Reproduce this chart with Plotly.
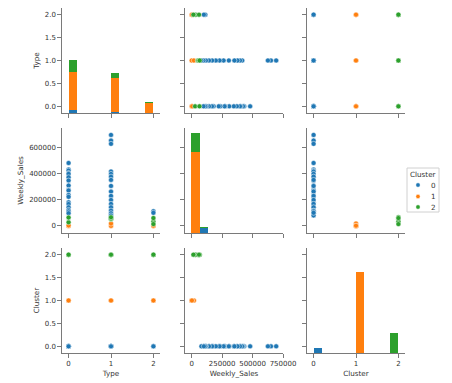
import numpy as np
import plotly.graph_objects as go

# ---------------- data ----------------
variables = ["Type", "Weekly_Sales", "Cluster"]
cluster_ids = [0, 1, 2]
cluster_colors = ["#1f77b4", "#ff7f0e", "#2ca02c"]

# scatter points (one entry per point)
point_type = [0]*18 + [1]*16 + [2]*2 + [0, 0, 1, 1, 2, 2] + [0, 0, 1, 1, 1, 2, 2, 2]
point_sales = [480000, 431000, 422000, 403000, 397000, 371000, 346000, 308000, 275000,
               270000, 236000, 222000, 180000, 167000, 142000, 122000, 111000, 97000,
               694000, 651000, 626000, 415000, 397000, 376000, 351000, 305000, 262000,
               229000, 198000, 168000, 142000, 117000, 97000, 80000,
               112000, 100000,
               0, 4000, 0, 18000, 0, 2000,
               28000, 64000, 50000, 56000, 66000, 33000, 60000, 14000]
point_cluster = [0]*36 + [1]*6 + [2]*8

# diagonal histogram counts (stacked by cluster), 10 bins each
type_bin_lo, type_bin_hi = 0.0, 2.0
type_hist_c0 = [3.5, 0, 0, 0, 0, 1, 0, 0, 0, 0]
type_hist_c1 = [38, 0, 0, 0, 0, 34, 0, 0, 0, 10]
type_hist_c2 = [12, 0, 0, 0, 0, 5, 0, 0, 0, 1]

sales_bin_lo, sales_bin_hi = -4989, 693099
sales_hist_c0 = [0, 5, 0, 0, 0, 0, 0, 0, 0, 0]
sales_hist_c1 = [81, 0, 0, 0, 0, 0, 0, 0, 0, 0]
sales_hist_c2 = [19, 0.6, 0, 0, 0, 0, 0, 0, 0, 0]

cluster_bin_lo, cluster_bin_hi = 0.0, 2.0
cluster_hist_c0 = [5, 0, 0, 0, 0, 0, 0, 0, 0, 0]
cluster_hist_c1 = [0, 0, 0, 0, 0, 81, 0, 0, 0, 0]
cluster_hist_c2 = [0, 0, 0, 0, 0, 0, 0, 0, 0, 20]

type_ticks_y = [0, 0.5, 1, 1.5, 2]
type_ticks_x = [0, 1, 2]
sales_ticks_y = [0, 200000, 400000, 600000]
sales_ticks_x = [0, 250000, 500000, 750000]

# ---------------- layout helpers ----------------
W, H = 452, 383
col_px = [(62, 160), (185, 283), (307, 405)]
row_px = [(8, 113), (128, 233), (248, 353)]

x_ranges = {"Type": [-0.155, 2.155], "Weekly_Sales": [-55000, 750000], "Cluster": [-0.155, 2.155]}
y_ranges = {"Type": [-0.145, 2.145], "Weekly_Sales": [-54000, 747000], "Cluster": [-0.145, 2.145]}
x_ticks = {"Type": (type_ticks_x, "{:d}"), "Weekly_Sales": (sales_ticks_x, "{:d}"), "Cluster": (type_ticks_x, "{:d}")}
y_ticks = {"Type": (type_ticks_y, "{:.1f}"), "Weekly_Sales": (sales_ticks_y, "{:d}"), "Cluster": (type_ticks_y, "{:.1f}")}

data_cols = {
    "Type": np.array(point_type, dtype=float),
    "Weekly_Sales": np.array(point_sales, dtype=float),
    "Cluster": np.array(point_cluster, dtype=float),
}
clus = np.array(point_cluster)

hists = {
    "Type": (type_bin_lo, type_bin_hi, [type_hist_c0, type_hist_c1, type_hist_c2]),
    "Weekly_Sales": (sales_bin_lo, sales_bin_hi, [sales_hist_c0, sales_hist_c1, sales_hist_c2]),
    "Cluster": (cluster_bin_lo, cluster_bin_hi, [cluster_hist_c0, cluster_hist_c1, cluster_hist_c2]),
}

FONT = "DejaVu Sans"
AX_COLOR = "#7a7a7a"
TXT = "#333333"
TICK_SIZE = 7
TITLE_SIZE = 7.2

fig = go.Figure()
layout = {}

def axname(prefix, k):
    return prefix + ("" if k == 1 else str(k))

def fmt(f, v):
    return f.format(int(v)) if "d" in f else f.format(v)

diag_top = 1.05 * max(float(np.max(np.sum(np.array(h[2], dtype=float), axis=0))) for h in hists.values())

common = dict(showgrid=False, zeroline=False, showline=True, linecolor=AX_COLOR, linewidth=1.2,
              ticks="outside", ticklen=3.5, tickwidth=1, tickcolor=AX_COLOR, tickangle=0,
              automargin=False, tickfont=dict(family=FONT, size=TICK_SIZE, color=TXT))

for r in range(3):
    for c in range(3):
        k = r * 3 + c + 1
        xv, yv = variables[c], variables[r]
        xa, ya = axname("xaxis", k), axname("yaxis", k)
        xref, yref = axname("x", k), axname("y", k)
        xt, xf = x_ticks[xv]
        yt, yf = y_ticks[yv]
        layout[xa] = dict(
            common, domain=[col_px[c][0] / W, col_px[c][1] / W], anchor=yref, range=x_ranges[xv],
            tickmode="array", tickvals=xt, ticktext=[fmt(xf, v) for v in xt], showticklabels=(r == 2),
            title=dict(text=xv if r == 2 else "", font=dict(family=FONT, size=TITLE_SIZE, color=TXT), standoff=3),
        )
        ydict = dict(
            common, domain=[1 - row_px[r][1] / H, 1 - row_px[r][0] / H], anchor=xref,
            tickmode="array", ticktext=[fmt(yf, v) for v in yt], showticklabels=(c == 0),
            title=dict(text=yv if c == 0 else "", font=dict(family=FONT, size=TITLE_SIZE, color=TXT), standoff=4),
        )
        if r == c:
            # histogram in count units; row-variable ticks mapped onto the count axis
            ylo, yhi = y_ranges[yv]
            ydict["range"] = [0, diag_top]
            ydict["tickvals"] = [(v - ylo) / (yhi - ylo) * diag_top for v in yt]
            lo, hi, counts = hists[xv]
            edges = np.linspace(lo, hi, len(counts[0]) + 1)
            centers = (edges[:-1] + edges[1:]) / 2
            widths = np.diff(edges)
            for ci in cluster_ids:
                fig.add_trace(go.Bar(
                    x=centers, y=counts[ci], width=widths, xaxis=xref, yaxis=yref,
                    marker=dict(color=cluster_colors[ci], line=dict(width=0)),
                    showlegend=False, hoverinfo="skip",
                ))
        else:
            ydict["range"] = y_ranges[yv]
            ydict["tickvals"] = yt
            for ci in cluster_ids:
                m = clus == ci
                fig.add_trace(go.Scatter(
                    x=data_cols[xv][m], y=data_cols[yv][m], mode="markers",
                    xaxis=xref, yaxis=yref,
                    marker=dict(color=cluster_colors[ci], size=5, line=dict(color="white", width=0.5)),
                    showlegend=False, hoverinfo="skip",
                ))
        layout[ya] = ydict

fig.update_layout(**layout)

# ---------------- manual legend ----------------
leg_left, leg_right, leg_top, leg_bottom = 407, 439, 168, 212
leg_rows = [185, 196.5, 207]
shapes = [dict(type="rect", xref="paper", yref="paper",
               x0=leg_left / W, x1=leg_right / W, y0=1 - leg_bottom / H, y1=1 - leg_top / H,
               line=dict(color="#d0d0d0", width=1), fillcolor="white", layer="above")]
annotations = [dict(text="Cluster", x=(leg_left + leg_right) / 2 / W, y=1 - 175 / H,
                    xref="paper", yref="paper", showarrow=False, xanchor="center", yanchor="middle",
                    font=dict(family=FONT, size=TITLE_SIZE, color=TXT))]
for ci, yy in zip(cluster_ids, leg_rows):
    shapes.append(dict(type="circle", xref="paper", yref="paper", xsizemode="pixel", ysizemode="pixel",
                       xanchor=418 / W, yanchor=1 - yy / H, x0=-2.2, x1=2.2, y0=-2.2, y1=2.2,
                       fillcolor=cluster_colors[ci], line=dict(color="white", width=0.5), layer="above"))
    annotations.append(dict(text=str(ci), x=433 / W, y=1 - yy / H, xref="paper", yref="paper",
                            showarrow=False, xanchor="center", yanchor="middle",
                            font=dict(family=FONT, size=TITLE_SIZE, color=TXT)))

fig.update_layout(
    width=W, height=H, margin=dict(l=0, r=0, t=0, b=0, autoexpand=False),
    paper_bgcolor="white", plot_bgcolor="white", barmode="stack", bargap=0,
    font=dict(family=FONT, size=TICK_SIZE, color=TXT), showlegend=False,
    shapes=shapes, annotations=annotations,
)

fig.write_html(
    "out.html",
    config={"displayModeBar": False, "staticPlot": True},
    post_script="document.body.style.margin='0';document.body.style.padding='0';document.body.style.overflow='hidden';",
)
